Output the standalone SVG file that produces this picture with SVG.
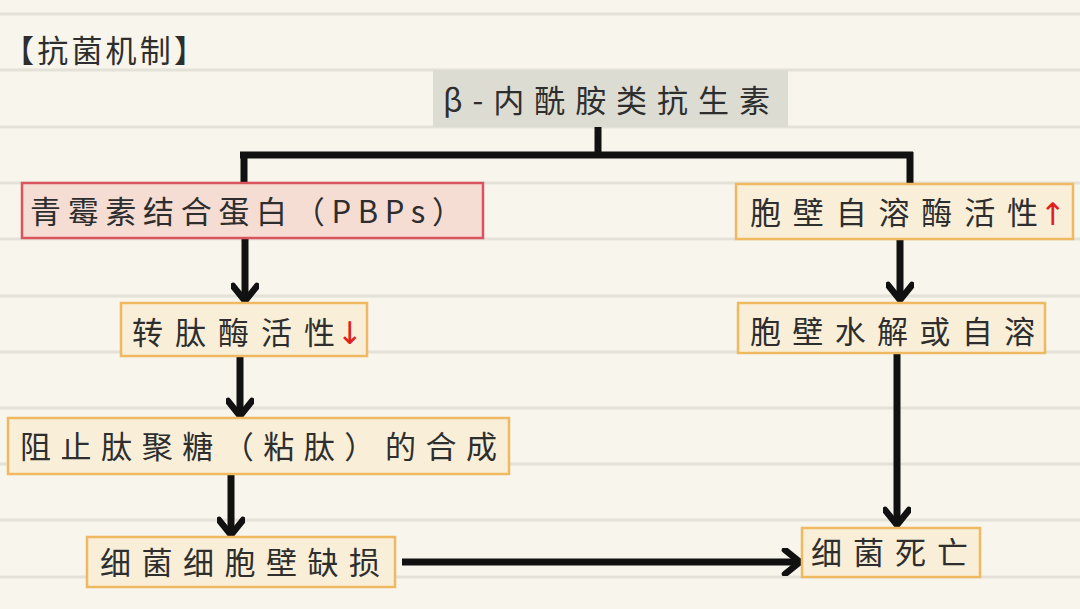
<svg xmlns="http://www.w3.org/2000/svg" width="1080" height="609" viewBox="0 0 1080 609">
<defs>
<style>
.bg{fill:#f8f6ec}
.rule{stroke:#e4e2d8;stroke-width:3}
.box{fill:#f9efd9;stroke:#f0b860;stroke-width:2.5}
.red{fill:#f5ddd4;stroke:#d9545c;stroke-width:2.5}
.gray{fill:#dcdcd2;stroke:none}
.t{font-family:"Noto Sans CJK SC","Noto Sans CJK JP",sans-serif;font-size:31px;fill:#2e2e2e}
.up{font-family:"DejaVu Sans",sans-serif;font-size:31px;fill:#e0201c}
.ln{stroke:#111;stroke-width:7;fill:none}
</style>
<marker id="ah" markerUnits="userSpaceOnUse" viewBox="0 0 32 28" markerWidth="32" markerHeight="28" refX="28" refY="14" orient="auto">
<path d="M13,2 L28,14 L13,26" fill="none" stroke="#111" stroke-width="6.5" stroke-linecap="round" stroke-linejoin="round"/>
</marker>
</defs>
<rect class="bg" x="0" y="0" width="1080" height="609"/>
<g id="rules">
<line class="rule" x1="0" y1="14" x2="1080" y2="14"/>
<line class="rule" x1="0" y1="70" x2="1080" y2="70"/>
<line class="rule" x1="0" y1="127" x2="1080" y2="127"/>
<line class="rule" x1="0" y1="183" x2="1080" y2="183"/>
<line class="rule" x1="0" y1="239" x2="1080" y2="239"/>
<line class="rule" x1="0" y1="296" x2="1080" y2="296"/>
<line class="rule" x1="0" y1="352" x2="1080" y2="352"/>
<line class="rule" x1="0" y1="408" x2="1080" y2="408"/>
<line class="rule" x1="0" y1="464" x2="1080" y2="464"/>
<line class="rule" x1="0" y1="520" x2="1080" y2="520"/>
<line class="rule" x1="0" y1="577" x2="1080" y2="577"/>
</g>
<g id="heading">
<text class="t" x="3" y="62" font-size="30" textLength="202" lengthAdjust="spacing">【抗菌机制】</text>
</g>
<g id="connectors">
<path class="ln" d="M598,127 V155"/>
<path class="ln" d="M240,155 H913"/>
<path class="ln" d="M244,152 V184"/>
<path class="ln" d="M910,152 V185"/>
<path class="ln" d="M245,238 V301" marker-end="url(#ah)"/>
<path class="ln" d="M240,356 V416" marker-end="url(#ah)"/>
<path class="ln" d="M231,474 V535" marker-end="url(#ah)"/>
<path class="ln" d="M900,239 V300" marker-end="url(#ah)"/>
<path class="ln" d="M897,353 V525" marker-end="url(#ah)"/>
<path class="ln" d="M402,562 H800" marker-end="url(#ah)"/>
</g>
<g id="n-beta">
<rect class="gray" x="433" y="70" width="355" height="57"/>
<text class="t" x="443" y="112" textLength="327" lengthAdjust="spacing">β-内酰胺类抗生素</text>
</g>
<g id="n-pbp">
<rect class="red" x="22" y="183" width="461" height="55"/>
<text class="t" x="30" y="223" textLength="433" lengthAdjust="spacing">青霉素结合蛋白（PBPs）</text>
</g>
<g id="n-autolysin">
<rect class="box" x="736" y="184" width="337" height="55"/>
<text class="t" x="750" y="224" textLength="288" lengthAdjust="spacing">胞壁自溶酶活性</text>
<text class="up" x="1040" y="225">↑</text>
</g>
<g id="n-transpeptidase">
<rect class="box" x="121" y="303" width="246" height="53"/>
<text class="t" x="132" y="344" textLength="203" lengthAdjust="spacing">转肽酶活性</text>
<text class="up" x="337" y="344">↓</text>
</g>
<g id="n-lysis">
<rect class="box" x="738" y="303" width="307" height="50"/>
<text class="t" x="750" y="343" textLength="285" lengthAdjust="spacing">胞壁水解或自溶</text>
</g>
<g id="n-block">
<rect class="box" x="8" y="418" width="501" height="56"/>
<text class="t" x="20" y="458" textLength="477" lengthAdjust="spacing">阻止肽聚糖（粘肽）的合成</text>
</g>
<g id="n-defect">
<rect class="box" x="87" y="537" width="308" height="50"/>
<text class="t" x="100" y="574" textLength="280" lengthAdjust="spacing">细菌细胞壁缺损</text>
</g>
<g id="n-death">
<rect class="box" x="802" y="528" width="178" height="49"/>
<text class="t" x="811" y="564" textLength="157" lengthAdjust="spacing">细菌死亡</text>
</g>
</svg>
